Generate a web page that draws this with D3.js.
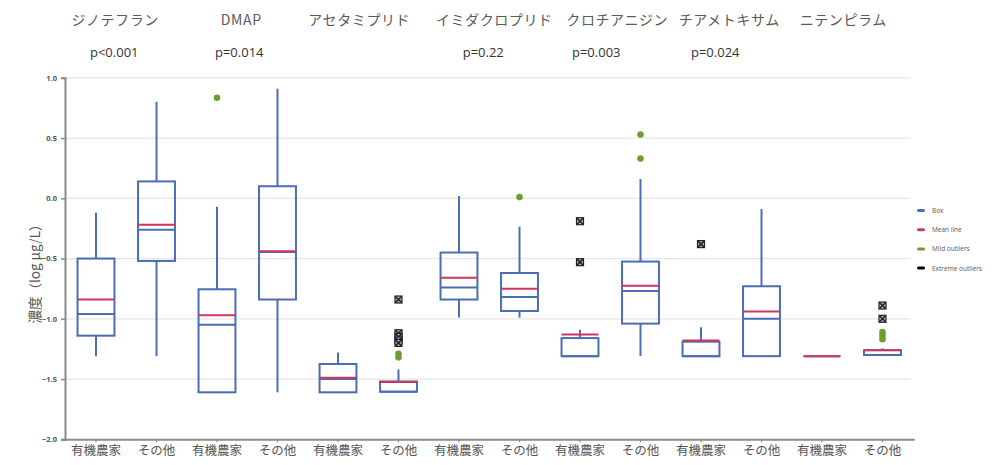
<!DOCTYPE html>
<html>
<head>
<meta charset="utf-8">
<script src="https://cdn.jsdelivr.net/npm/d3@7"></script>
<style>
  html, body { margin: 0; padding: 0; background: #fff; }
  svg { display: block; }
  text { font-family: "Noto Sans CJK JP", "Noto Sans", sans-serif; }
</style>
</head>
<body>
<svg id="chart" width="1004" height="465"></svg>
<script>
// Pesticide concentrations (log µg/L): organic farmers vs. others
const compounds = ["ジノテフラン", "DMAP", "アセタミプリド", "イミダクロプリド", "クロチアニジン", "チアメトキサム", "ニテンピラム"];
const groups = ["有機農家", "その他"];
const pValues = ["p<0.001", "p=0.014", "", "p=0.22", "p=0.003", "p=0.024", ""];

// One entry per box, compound by compound, 有機農家 then その他
const whiskerLow  = [-1.31, -1.31, -1.61, -1.61, -1.61, -1.61, -0.99, -0.99, -1.31, -1.31, -1.31, -1.31, -1.31, -1.31];
const q1          = [-1.14, -0.52, -1.61, -0.84, -1.61, -1.605, -0.84, -0.935, -1.31, -1.04, -1.31, -1.31, -1.31, -1.30];
const medians     = [-0.96, -0.26, -1.05, -0.445, -1.50, -1.605, -0.74, -0.82, -1.31, -0.77, -1.31, -1.00, -1.31, -1.30];
const q3          = [-0.50, 0.14, -0.755, 0.10, -1.375, -1.52, -0.45, -0.62, -1.16, -0.525, -1.19, -0.73, -1.31, -1.26];
const whiskerHigh = [-0.12, 0.80, -0.07, 0.91, -1.28, -1.42, 0.02, -0.235, -1.09, 0.16, -1.07, -0.09, -1.31, -1.245];
const means       = [-0.84, -0.22, -0.97, -0.44, -1.49, -1.525, -0.66, -0.75, -1.13, -0.725, -1.18, -0.94, -1.31, -1.26];
const mildOutliers = [[], [], [0.835], [], [], [-1.29, -1.32], [], [0.01], [], [0.53, 0.33], [], [], [], [-1.11, -1.14, -1.17]];
const extremeOutliers = [[], [], [], [], [], [-0.84, -1.12, -1.15, -1.18, -1.20], [], [], [-0.19, -0.53], [], [-0.38], [], [], [-0.89, -1.00]];

const yTicks = [1.0, 0.5, 0.0, -0.5, -1.0, -1.5, -2.0];
const legendItems = ["Box", "Mean line", "Mild outliers", "Extreme outliers"];

// Layout
const plotLeft = 65.75, plotRight = 912.75, plotTop = 77.8, plotBottom = 439.3;
const titleShift = [-11, -6, -9, 5, 7, -2, -9];
const pShift = [-12, -8, 0, -6, -14, -16, 0];
const colors = { box: "#4a6db4", mean: "#cf3561", mild: "#6f9d2f", extreme: "#222", axis: "#8a8a8a", grid: "#e6e6e6", text: "#555" };

const boxes = [];
compounds.forEach((c, ci) => groups.forEach((g, gi) => boxes.push({ key: ci + "-" + gi, compound: c, group: g })));
boxes.forEach((b, i) => Object.assign(b, {
  lo: whiskerLow[i], q1: q1[i], med: medians[i], q3: q3[i], hi: whiskerHigh[i], mean: means[i],
  mild: mildOutliers[i], extreme: extremeOutliers[i]
}));

const svg = d3.select("#chart");

const x = d3.scaleBand().domain(boxes.map(d => d.key)).range([plotLeft, plotRight]).padding(0);
const y = d3.scaleLinear().domain([-2, 1]).range([plotBottom, plotTop]);
const cx = d => x(d.key) + x.bandwidth() / 2;
const boxW = x.bandwidth() * 0.61;

// Gridlines
svg.append("g").selectAll("line").data(yTicks.filter(t => t > -2)).join("line")
  .attr("x1", plotLeft).attr("x2", plotRight - 2)
  .attr("y1", d => y(d)).attr("y2", d => y(d))
  .attr("stroke", colors.grid).attr("stroke-width", 1.2);

// Y axis
const yAxis = svg.append("g").attr("transform", `translate(${plotLeft - 0.75},0)`)
  .call(d3.axisLeft(y).tickValues(yTicks).tickFormat(d3.format(".1f")).tickSize(4).tickPadding(4));
yAxis.select(".domain").attr("stroke", colors.axis).attr("stroke-width", 2);
yAxis.selectAll(".tick line").attr("stroke", colors.axis).attr("stroke-width", 1.5);
yAxis.selectAll(".tick text").attr("fill", colors.text).style("font-size", "7.5px").style("font-weight", "bold")
  .style("font-family", "'Open Sans', sans-serif");

// X axis
const xAxis = svg.append("g").attr("transform", `translate(0,${plotBottom})`)
  .call(d3.axisBottom(x).tickFormat((d, i) => boxes[i].group).tickSize(3).tickSizeOuter(0).tickPadding(4));
xAxis.select(".domain").attr("stroke", colors.axis).attr("stroke-width", 2)
  .attr("d", `M${plotLeft - 3},0.5H${plotRight + 2}`);
xAxis.selectAll(".tick line").attr("stroke", colors.axis).attr("stroke-width", 1.2);
xAxis.selectAll(".tick text").attr("fill", colors.text).style("font-size", "12.5px");

// Y axis title
svg.append("text")
  .attr("transform", `translate(40,${(plotTop + plotBottom) / 2 + 12}) rotate(-90)`)
  .attr("text-anchor", "middle").attr("fill", colors.text).style("font-size", "13.5px")
  .text("濃度（log μg/L）");

// Compound titles and p-values
const groupCenter = i => (x(boxes[2 * i].key) + x(boxes[2 * i + 1].key) + x.bandwidth()) / 2;
svg.append("g").selectAll("text").data(compounds).join("text")
  .attr("x", (d, i) => groupCenter(i) + titleShift[i]).attr("y", 25)
  .attr("text-anchor", "middle").attr("fill", "#5a5a5a").style("font-size", "14px")
  .style("letter-spacing", "0.6px")
  .text(d => d);
svg.append("g").selectAll("text").data(pValues).join("text")
  .attr("x", (d, i) => groupCenter(i) + pShift[i]).attr("y", 57)
  .attr("text-anchor", "middle").attr("fill", "#333").style("font-size", "13px")
  .style("font-family", "'Open Sans', sans-serif")
  .text(d => d);

// Boxes
const gBox = svg.append("g").selectAll("g").data(boxes).join("g");
gBox.append("line")
  .attr("x1", cx).attr("x2", cx).attr("y1", d => y(d.hi)).attr("y2", d => y(d.q3))
  .attr("stroke", colors.box).attr("stroke-width", 2);
gBox.append("line")
  .attr("x1", cx).attr("x2", cx).attr("y1", d => y(d.q1)).attr("y2", d => y(d.lo))
  .attr("stroke", colors.box).attr("stroke-width", 2);
gBox.append("rect")
  .attr("x", d => cx(d) - boxW / 2).attr("width", boxW)
  .attr("y", d => y(d.q3)).attr("height", d => y(d.q1) - y(d.q3))
  .attr("fill", "none").attr("stroke", colors.box).attr("stroke-width", 2);
gBox.append("line")
  .attr("x1", d => cx(d) - boxW / 2).attr("x2", d => cx(d) + boxW / 2)
  .attr("y1", d => y(d.med)).attr("y2", d => y(d.med))
  .attr("stroke", colors.box).attr("stroke-width", 2);
gBox.append("line")
  .attr("x1", d => cx(d) - boxW / 2).attr("x2", d => cx(d) + boxW / 2)
  .attr("y1", d => y(d.mean)).attr("y2", d => y(d.mean))
  .attr("stroke", colors.mean).attr("stroke-width", 2);

// Mild outliers
gBox.selectAll("circle").data(d => d.mild.map(v => ({ v, d }))).join("circle")
  .attr("cx", o => cx(o.d)).attr("cy", o => y(o.v)).attr("r", 3.3)
  .attr("fill", colors.mild);

// Extreme outliers: boxed crosses
const ext = gBox.selectAll("g.ext").data(d => d.extreme.map(v => ({ v, d }))).join("g")
  .attr("class", "ext")
  .attr("transform", o => `translate(${cx(o.d)},${y(o.v)})`);
ext.append("rect").attr("x", -3.5).attr("y", -3.5).attr("width", 7).attr("height", 7)
  .attr("fill", "#bbb").attr("stroke", colors.extreme).attr("stroke-width", 1.2);
ext.append("path").attr("d", "M-3,-3L3,3M3,-3L-3,3")
  .attr("stroke", colors.extreme).attr("stroke-width", 1.6);

// Legend
const legendColors = [colors.box, colors.mean, colors.mild, "#000"];
const lg = svg.append("g").selectAll("g").data(legendItems).join("g")
  .attr("transform", (d, i) => `translate(917,${210.5 + i * 19.2})`);
lg.append("rect").attr("x", 0).attr("y", -1.5).attr("width", 8).attr("height", 3).attr("rx", 1.5)
  .attr("fill", (d, i) => legendColors[i]);
lg.append("text").attr("x", 15).attr("y", 2.5).attr("fill", colors.text)
  .style("font-size", "6.5px").style("font-family", "'Open Sans', sans-serif")
  .text(d => d);
</script>
</body>
</html>
